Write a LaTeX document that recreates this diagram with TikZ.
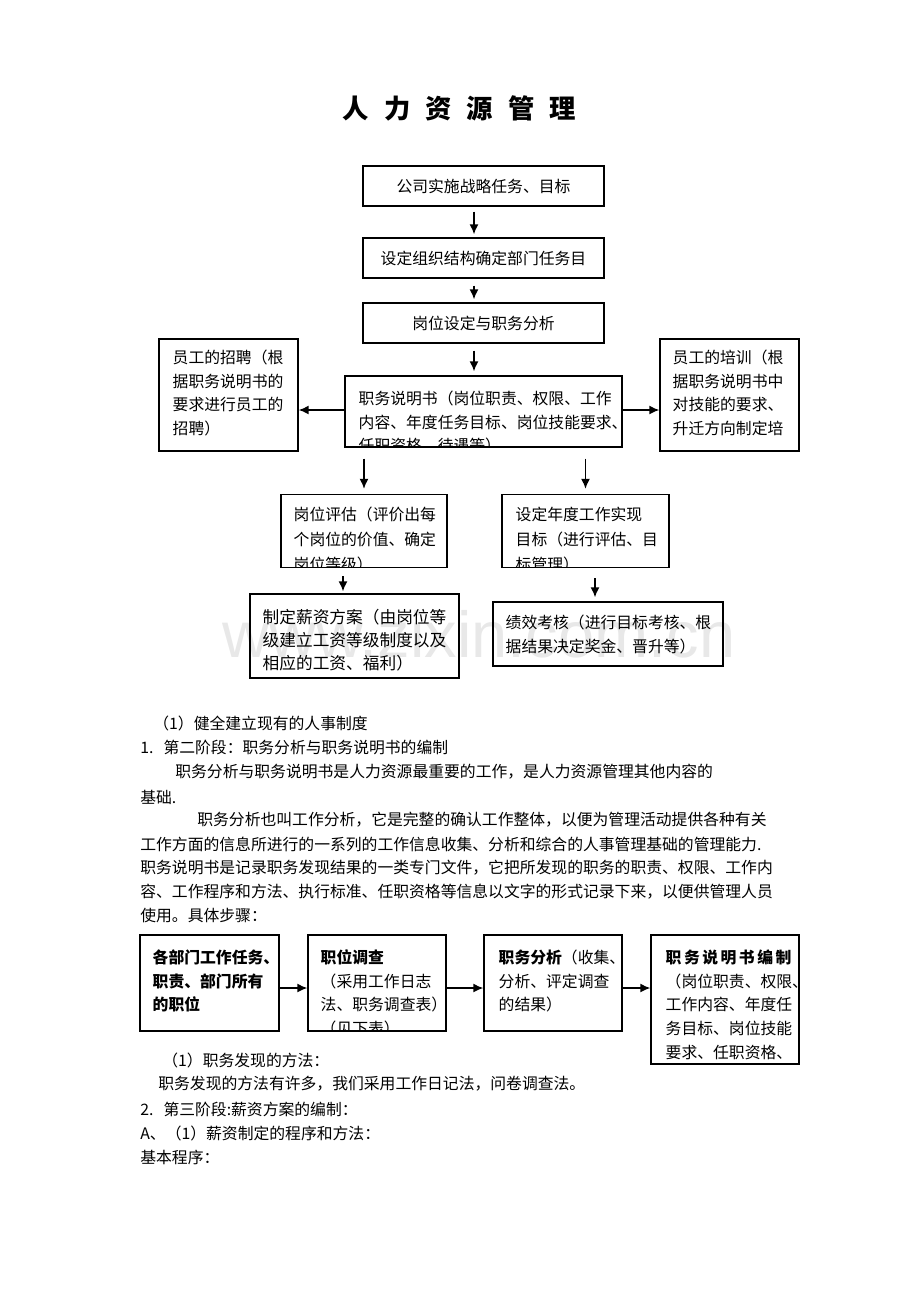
\documentclass[tikz,border=0pt]{standalone}
\usepackage{fontspec}
\setmainfont{Noto Sans CJK SC}
\newfontfamily\wmfont{Liberation Sans}
\usetikzlibrary{arrows.meta}
\newcommand{\boxfont}{\fontsize{9pt}{13.5pt}\selectfont}
\newcommand{\bodyfont}{\fontsize{9pt}{13.5pt}\selectfont}
\tikzset{
  box/.style={draw, line width=0.8pt, inner sep=0pt, font=\boxfont},
  boxtext/.style={anchor=north west, inner sep=0pt, minimum width=0pt, minimum height=0pt, draw=none, align=left},
  intext/.style n args={3}{path picture={\node[boxtext] at ([shift={(#1,#2)}]path picture bounding box.north west) {\strut #3};}},
  txt/.style={anchor=west, inner sep=0pt, font=\bodyfont},
  arr/.style={draw, line width=0.85pt, -{Latex[length=2mm,width=1.8mm]}},
}
\begin{document}
\begin{tikzpicture}[x=0.02cm, y=-0.02cm]
\useasboundingbox (0,0) rectangle (920,1302);
\node[anchor=base west, inner sep=0pt, text=black!9, font=\fontsize{37pt}{40pt}\selectfont\wmfont] (wm) at (222,657) {www.zixin.com.cn};
\node[font=\fontsize{15pt}{18pt}\selectfont\bfseries] (title) at (459.5,108) {人\hspace{0.3cm}力\hspace{0.3cm}资\hspace{0.3cm}源\hspace{0.3cm}管\hspace{0.3cm}理};

% upper chart
\node[box, minimum width=4.82cm, minimum height=0.8cm] (b1) at (483.5,186) {公司实施战略任务、目标};
\node[box, minimum width=4.82cm, minimum height=0.8cm] (b2) at (483.5,258) {设定组织结构确定部门任务目};
\node[box, minimum width=4.82cm, minimum height=0.8cm] (b3) at (483.5,323) {岗位设定与职务分析};
\node[box, minimum width=5.54cm, minimum height=1.42cm, intext={13}{11}{职务说明书（岗位职责、权限、工作\\内容、年度任务目标、岗位技能要求、\\任职资格、待遇等）}] (b4) at (483.5,411.5) {};
\node[box, minimum width=2.78cm, minimum height=2.24cm, intext={13}{7}{员工的招聘（根\\据职务说明书的\\要求进行员工的\\招聘）}] (bl) at (228.5,395) {};
\node[box, minimum width=2.78cm, minimum height=2.24cm, intext={12}{7}{员工的培训（根\\据职务说明书中\\对技能的要求、\\升迁方向制定培}] (br) at (729.5,395) {};
\node[box, minimum width=3.32cm, minimum height=1.46cm, font=\fontsize{9pt}{14.2pt}\selectfont, intext={12}{7.5}{岗位评估（评价出每\\个岗位的价值、确定\\岗位等级）}] (b5) at (364,531) {};
\node[box, minimum width=3.34cm, minimum height=1.46cm, font=\fontsize{9pt}{14.2pt}\selectfont, intext={13}{7.5}{设定年度工作实现\\目标（进行评估、目\\标管理）}] (b6) at (585.5,531) {};
\node[box, minimum width=4.18cm, minimum height=1.68cm, font=\fontsize{9.5pt}{13.1pt}\selectfont, intext={12}{13}{制定薪资方案（由岗位等\\级建立工资等级制度以及\\相应的工资、福利）}] (b7) at (354.5,636) {};
\node[box, minimum width=4.6cm, minimum height=1.28cm, intext={12}{9}{绩效考核（进行目标考核、根\\据结果决定奖金、晋升等）}] (b8) at (608,634) {};

\path[arr, shorten <=0.1cm, shorten >=0.06cm] (b1.south -| 474,0) -- (b2.north -| 474,0);
\path[arr, shorten <=0.14cm, shorten >=0.06cm] (b2.south -| 474,0) -- (b3.north -| 474,0);
\path[arr, shorten <=0.14cm, shorten >=0.08cm] (b3.south -| 474,0) -- (b4.north -| 474,0);
\path[arr] (b4.west |- 0,410) -- (bl.east |- 0,410);
\path[arr] (b4.east |- 0,410) -- (br.west |- 0,410);
\path[arr, shorten <=0.22cm, shorten >=0.1cm] (b4.south -| b5) -- (b5);
\path[arr, shorten <=0.22cm, shorten >=0.1cm] (b4.south -| b6) -- (b6);
\path[arr, shorten <=0.16cm, shorten >=0.04cm] (b5.south -| 343,0) -- (b7.north -| 343,0);
\path[arr, shorten <=0.2cm, shorten >=0.08cm] (b6.south -| 595,0) -- (b8.north -| 595,0);

% text
\node[txt] (t1) at (153,723) {（1）健全建立现有的人事制度};
\node[txt] (t2) at (140,747) {1.\hspace{2mm}第二阶段：职务分析与职务说明书的编制};
\node[txt] (t3) at (175,772) {职务分析与职务说明书是人力资源最重要的工作，是人力资源管理其他内容的};
\node[txt] (t4) at (140,797) {基础.};
\node[txt] (t5) at (197,820) {职务分析也叫工作分析，它是完整的确认工作整体，以便为管理活动提供各种有关};
\node[txt] (t6) at (140,844) {工作方面的信息所进行的一系列的工作信息收集、分析和综合的人事管理基础的管理能力.};
\node[txt] (t7) at (140,868) {职务说明书是记录职务发现结果的一类专门文件，它把所发现的职务的职责、权限、工作内};
\node[txt] (t8) at (140,892) {容、工作程序和方法、执行标准、任职资格等信息以文字的形式记录下来，以便供管理人员};
\node[txt] (t9) at (140,916) {使用。具体步骤：};

% lower chart
\node[box, minimum width=2.78cm, minimum height=1.92cm, intext={12}{11}{\bfseries 各部门工作任务、\\\bfseries 职责、部门所有\\\bfseries 的职位}] (bA) at (209.5,983) {};
\node[box, minimum width=2.76cm, minimum height=1.92cm, intext={12}{11}{\textbf{职位调查}\\（采用工作日志\\法、职务调查表）\\（见下表）}] (bB) at (377,983) {};
\node[box, minimum width=2.76cm, minimum height=1.92cm, intext={14}{11}{\textbf{职务分析}（收集、\\分析、评定调查\\的结果）}] (bC) at (553,983) {};
\node[box, minimum width=2.96cm, minimum height=2.58cm, intext={14}{11}{\textbf{职\hspace{0.5mm}务\hspace{0.5mm}说\hspace{0.5mm}明\hspace{0.5mm}书\hspace{0.5mm}编\hspace{0.5mm}制}\\（岗位职责、权限、\\工作内容、年度任\\务目标、岗位技能\\要求、任职资格、}] (bD) at (725,999.5) {};

\path[arr] (bA.east |- 0,988) -- (bB.west |- 0,988);
\path[arr] (bB.east |- 0,988) -- (bC.west |- 0,988);
\path[arr] (bC.east |- 0,988) -- (bD.west |- 0,988);

\node[txt] (t10) at (162,1060) {（1）职务发现的方法：};
\node[txt] (t11) at (158,1084) {职务发现的方法有许多，我们采用工作日记法，问卷调查法。};
\node[txt] (t12) at (140,1109) {2.\hspace{2mm}第三阶段:薪资方案的编制：};
\node[txt] (t13) at (140,1133) {A、（1）薪资制定的程序和方法：};
\node[txt] (t14) at (140,1157) {基本程序：};
\end{tikzpicture}
\end{document}
